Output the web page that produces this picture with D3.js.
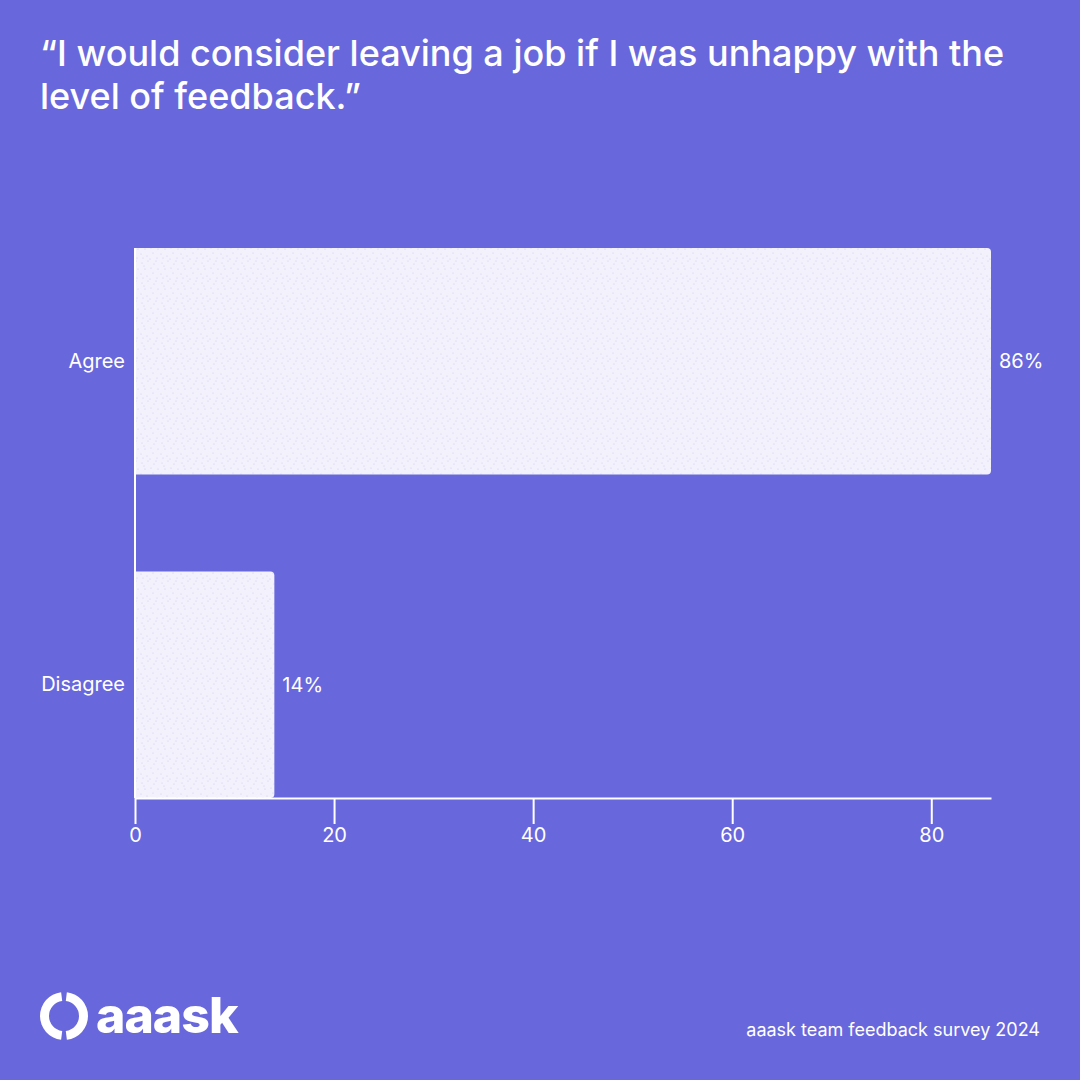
<!DOCTYPE html>
<html><head><meta charset="utf-8">
<script src="https://cdn.jsdelivr.net/npm/d3@7"></script>
<style>html,body{margin:0;padding:0;background:#6967DC;}svg{display:block;font-family:Inter,"Noto Sans",sans-serif;}</style>
</head><body>
<svg id="c" width="1080" height="1080"></svg>
<script>
const categories = ["Agree", "Disagree"];
const values = [86, 14];
const valueLabels = ["86%", "14%"];
const xTicks = [0, 20, 40, 60, 80];
const titleLines = ["\u201CI would consider leaving a job if I was unhappy with the", "level of feedback.\u201D"];
const footerText = "aaask team feedback survey 2024";
const logoText = "aaask";

const bg = "#6967DC", fg = "#FFFFFF", barFill = "#F3F2FC";
const svg = d3.select("#c");
svg.append("rect").attr("width",1080).attr("height",1080).attr("fill",bg);

// dot pattern
const defs = svg.append("defs");
const pat = defs.append("pattern").attr("id","dots").attr("patternUnits","userSpaceOnUse").attr("width",20).attr("height",20);
pat.append("rect").attr("width",20).attr("height",20).attr("fill",barFill);
[[2,3],[8,1],[14,4],[18,9],[5,9],[11,8],[1,14],[7,16],[13,13],[17,18],[10,19],[4,6],[16,1],[3,18]].forEach(p=>{
  pat.append("circle").attr("cx",p[0]).attr("cy",p[1]).attr("r",0.6).attr("fill","#CCCAF2");
});

const x = d3.scaleLinear().domain([0, 86]).range([135, 991]);
const y = d3.scaleBand().domain(categories).range([248, 798]).paddingInner(0.3).paddingOuter(0);

// title
svg.append("g").selectAll("text").data(titleLines).join("text")
  .attr("x",40).attr("y",(d,i)=>66+i*43).attr("fill",fg)
  .attr("font-size",36).attr("font-weight",500).text(d=>d);

// bars with right rounded corners
const r = 4;
svg.append("g").selectAll("path").data(categories).join("path")
  .attr("d",(d,i)=>{
    const x0=x(0), x1=x(values[i]), y0=y(d), y1=y(d)+y.bandwidth();
    return `M${x0},${y0}H${x1-r}Q${x1},${y0} ${x1},${y0+r}V${y1-r}Q${x1},${y1} ${x1-r},${y1}H${x0}Z`;
  })
  .attr("fill","url(#dots)");

// value labels
svg.append("g").selectAll("text").data(categories).join("text")
  .attr("x",(d,i)=>x(values[i])+8).attr("y",d=>y(d)+y.bandwidth()/2).attr("dy","0.35em")
  .attr("fill",fg).attr("font-size",20).text((d,i)=>valueLabels[i]);

// x axis
const xa = svg.append("g").attr("transform","translate(0,798)")
  .call(d3.axisBottom(x).tickValues(xTicks).tickSize(26).tickPadding(4).tickSizeOuter(0));
xa.select(".domain").attr("stroke",fg).attr("stroke-width",2);
xa.selectAll(".tick line").attr("stroke",fg).attr("stroke-width",2);
xa.selectAll(".tick text").attr("fill",fg).attr("font-size",20).attr("font-family","Inter, sans-serif");

// y axis
const ya = svg.append("g").attr("transform","translate(135,0)")
  .call(d3.axisLeft(y).tickSize(0).tickPadding(10));
ya.select(".domain").attr("stroke",fg).attr("stroke-width",2).attr("d","M0,248V798");
ya.selectAll(".tick text").attr("fill",fg).attr("font-size",20).attr("font-family","Inter, sans-serif");

// footer
svg.append("text").attr("x",1040).attr("y",1036).attr("text-anchor","end").attr("fill",fg)
  .attr("font-size",18).text(footerText);

// logo
const lg = svg.append("g").attr("transform","translate(64,1016)");
const arc = d3.arc().innerRadius(15).outerRadius(24);
lg.append("path").attr("d",arc({startAngle:0.12,endAngle:Math.PI-0.12})).attr("fill",fg);
lg.append("path").attr("d",arc({startAngle:Math.PI+0.12,endAngle:2*Math.PI-0.12})).attr("fill",fg);
svg.append("text").attr("x",96).attr("y",1033).attr("fill",fg).attr("font-size",50)
  .attr("font-weight",800).attr("letter-spacing","-1").text(logoText);
</script>
</body></html>
